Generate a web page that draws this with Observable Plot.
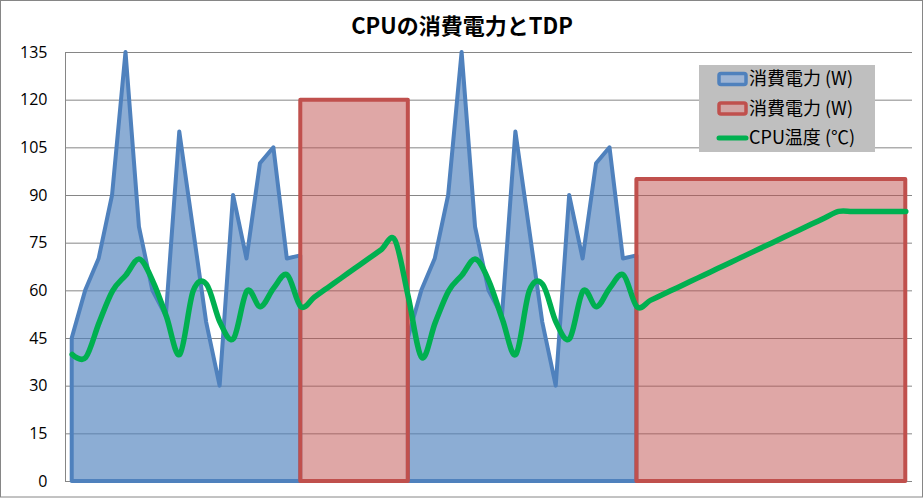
<!DOCTYPE html>
<html>
<head>
<meta charset="utf-8">
<script src="https://cdn.jsdelivr.net/npm/d3@7"></script>
<script src="https://cdn.jsdelivr.net/npm/@observablehq/plot@0.6"></script>
<style>
  html, body { margin: 0; padding: 0; background: #fff; }
</style>
</head>
<body>
<div id="chart"></div>
<script>
const chartTitle = "CPUの消費電力とTDP";
const seriesNames = ["消費電力 (W)", "消費電力 (W)", "CPU温度 (℃)"];
const yTicks = [0, 15, 30, 45, 60, 75, 90, 105, 120, 135];

// Power draw per sample while the load runs (null while it is paused)
const power = [
  45, 60, 70, 90, 135, 80, 60, 52, 110, 80, 50, 30, 90, 70, 100, 105, 70, 71,
  null, null, null, null, null, null, null,
  45, 60, 70, 90, 135, 80, 60, 52, 110, 80, 50, 30, 90, 70, 100, 105, 70, 71,
  null, null, null, null, null, null, null, null, null, null,
  null, null, null, null, null, null, null, null, null, null
];

// Sustained power at the TDP limit
const tdp = [
  null, null, null, null, null, null, null, null, null, null, null, null, null, null, null, null, null,
  120, 120, 120, 120, 120, 120, 120, 120, 120,
  null, null, null, null, null, null, null, null, null, null, null, null, null, null, null, null,
  95, 95, 95, 95, 95, 95, 95, 95, 95, 95, 95, 95, 95, 95, 95, 95, 95, 95, 95, 95, 95
];

// CPU temperature per sample
const temp = [
  40, 39, 50, 60, 65, 70, 63, 52, 40, 60, 62, 50, 45, 60, 55, 61, 65, 55,
  58, 61, 64, 67, 70, 73, 76,
  58,
  39, 50, 60, 65, 70, 63, 51, 40, 60, 62, 50, 45, 60, 55, 61, 65, 55,
  57, 59, 61, 63, 65, 67, 69, 71, 73, 75, 77, 79, 81, 83, 85,
  85, 85, 85, 85, 85
];

const blue = "#4f81bd", red = "#c0504d", green = "#00b050", gridColor = "#868686";

const rows = power.map((p, i) => ({i, power: p, tdp: tdp[i], temp: temp[i]}));
const xDomain = [-0.5, rows.length - 0.5];

const plot = Plot.plot({
  width: 924,
  height: 498,
  marginLeft: 65,
  marginRight: 12,
  marginTop: 52,
  marginBottom: 17,
  x: {domain: xDomain, axis: null},
  y: {domain: [0, 135], axis: null},
  style: {fontFamily: "'Open Sans', sans-serif", fontSize: "16px", color: "#000", background: "#fff"},
  marks: [
    Plot.gridY(yTicks, {stroke: gridColor, strokeOpacity: 1, strokeWidth: 1}),
    Plot.ruleX([xDomain[0]], {stroke: gridColor, strokeWidth: 1}),
    Plot.areaY(rows, {x: "i", y1: 0, y2: "power", fill: blue, fillOpacity: 0.65,
      stroke: blue, strokeWidth: 4, strokeLinejoin: "round"}),
    Plot.areaY(rows, {x: "i", y1: 0, y2: "tdp", fill: red, fillOpacity: 0.5,
      stroke: red, strokeWidth: 4, strokeLinejoin: "round"}),
    Plot.line(rows, {x: "i", y: "temp", stroke: green, strokeWidth: 5.5, curve: "cardinal"}),
    Plot.axisY(yTicks, {tickSize: 0, tickPadding: 18, fontSize: 16, label: null})
  ]
});

const svg = d3.select(plot);

// chart title
svg.append("text")
  .attr("x", 462).attr("y", 34)
  .attr("text-anchor", "middle")
  .attr("font-family", "'Noto Sans CJK JP', sans-serif")
  .attr("font-weight", "bold")
  .attr("font-size", 22)
  .attr("fill", "#000")
  .text(chartTitle);

// legend box
const legend = svg.append("g")
  .attr("font-family", "'Noto Sans CJK JP', sans-serif")
  .attr("font-size", 18)
  .attr("text-anchor", "start");
legend.append("rect").attr("x", 699).attr("y", 65).attr("width", 176).attr("height", 87).attr("fill", "#bfbfbf");
const rowsY = [79, 108.5, 138];
const swatches = [
  {stroke: blue, fill: "#9db4d4"},
  {stroke: red, fill: "#d1a6a5"}
];
swatches.forEach((s, k) => {
  legend.append("rect")
    .attr("x", 719).attr("y", rowsY[k] - 5.5).attr("width", 27).attr("height", 11).attr("rx", 2)
    .attr("fill", s.fill).attr("stroke", s.stroke).attr("stroke-width", 3.5);
});
legend.append("line")
  .attr("x1", 719).attr("x2", 746).attr("y1", rowsY[2]).attr("y2", rowsY[2])
  .attr("stroke", green).attr("stroke-width", 5).attr("stroke-linecap", "round");
seriesNames.forEach((name, k) => {
  legend.append("text")
    .attr("x", 749).attr("y", rowsY[k]).attr("dy", "0.36em")
    .attr("text-anchor", "start")
    .attr("fill", "#000")
    .text(name);
});

// outer chart border
svg.append("rect")
  .attr("x", 0.5).attr("y", 0.5).attr("width", 922).attr("height", 496.5)
  .attr("fill", "none").attr("stroke", gridColor).attr("stroke-width", 1);

document.getElementById("chart").appendChild(plot);
</script>
</body>
</html>
